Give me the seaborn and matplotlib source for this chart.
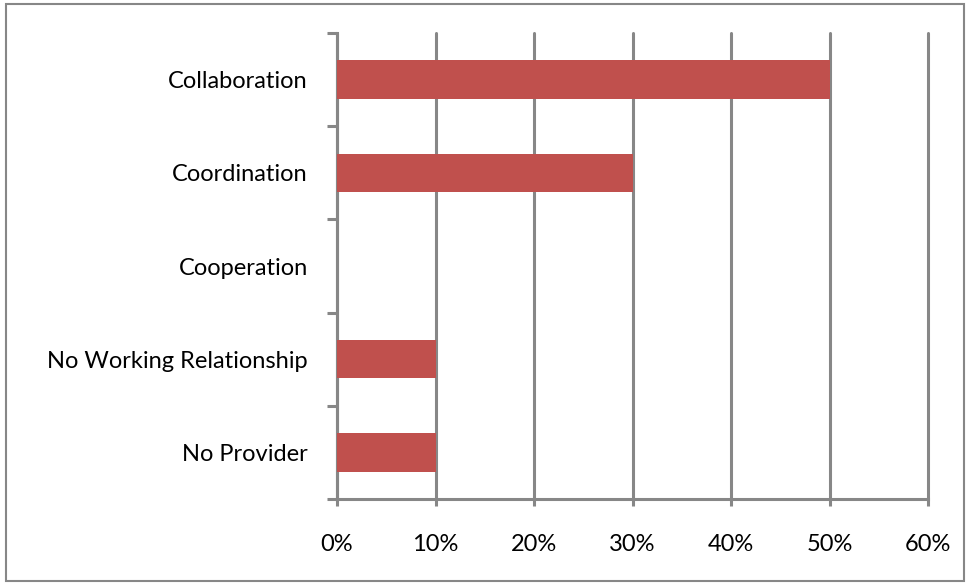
import matplotlib
matplotlib.use("Agg")
import matplotlib.pyplot as plt
import seaborn as sns
import pandas as pd
from matplotlib.ticker import FixedLocator, FuncFormatter
from matplotlib.patches import Rectangle

categories = ["Collaboration", "Coordination", "Cooperation",
              "No Working Relationship", "No Provider"]
values = [50, 30, 0, 10, 10]
x_ticks = [0, 10, 20, 30, 40, 50, 60]

sns.set_theme(style="white")
plt.rcParams["font.family"] = ["Lato", "DejaVu Sans"]

df = pd.DataFrame({"category": categories, "value": values})

grey = "#878787"
fig = plt.figure(figsize=(9.69, 5.84), dpi=100)
ax = fig.add_axes([0.3478, 0.1455, 0.6099, 0.798])

sns.barplot(data=df, x="value", y="category", orient="h",
            color="#C0504D", saturation=1, width=0.41, linewidth=0,
            ax=ax, zorder=3)

ax.set_xlim(0, 60)
ax.set_ylim(4.5, -0.5)
ax.xaxis.set_major_locator(FixedLocator(x_ticks))
ax.xaxis.set_major_formatter(FuncFormatter(lambda v, p: f"{v:.0f}%"))
ax.grid(axis="x", color=grey, linewidth=2.2, zorder=0)
for gl in ax.get_xgridlines():
    gl.set_clip_on(False)
ax.set_axisbelow(True)
ax.set_xlabel("")
ax.set_ylabel("")

for side in ["top", "right"]:
    ax.spines[side].set_visible(False)
for side in ["left", "bottom"]:
    ax.spines[side].set_color(grey)
    ax.spines[side].set_linewidth(2.2)

ax.yaxis.set_minor_locator(FixedLocator([-0.5, 0.5, 1.5, 2.5, 3.5, 4.5]))
ax.tick_params(axis="y", which="major", length=0, pad=21, labelsize=17,
               labelcolor="black")
ax.tick_params(axis="y", which="minor", left=True, length=7, width=2.2,
               color=grey)
ax.tick_params(axis="x", which="major", bottom=True, length=5, width=2.2,
               color=grey, pad=20, labelsize=17, labelcolor="black")

fig.patches.append(Rectangle((0.006, 0.005), 0.989, 0.989,
                             transform=fig.transFigure, fill=False,
                             edgecolor=grey, linewidth=1.5))

fig.savefig("out.png", dpi=100)
